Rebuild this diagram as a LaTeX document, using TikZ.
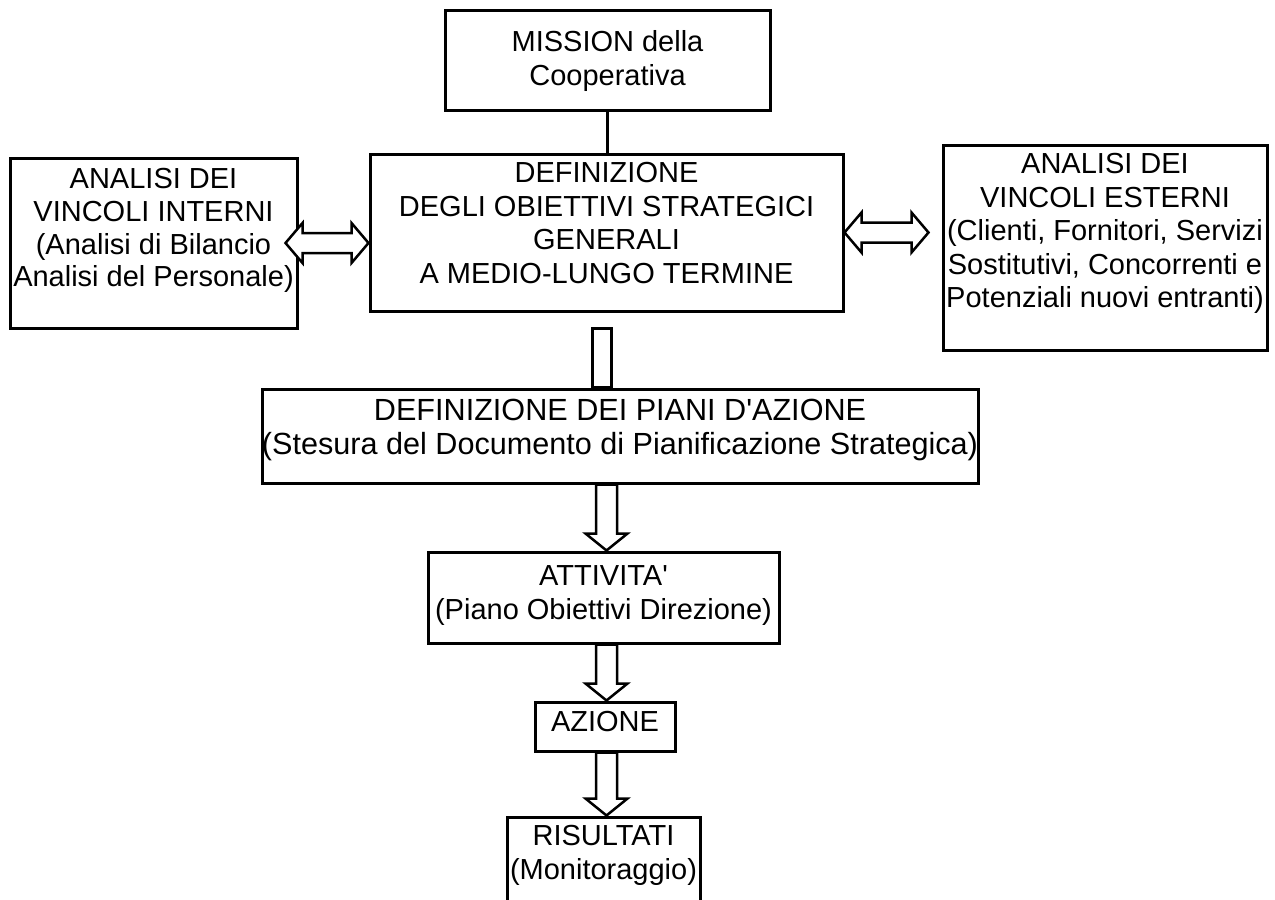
\documentclass[tikz,border=0pt]{standalone}
\usepackage{fontspec}
\setmainfont{Liberation Sans}
\usetikzlibrary{positioning,calc}

% freccia vuota verso il basso: #1 coda, #2 punta
\newcommand{\frecciagiu}[2]{%
	\draw[freccia] let \p1=(#1), \p2=(#2) in
		(\x1-10.5pt,\y1) -- (\x1-10.5pt,\y2+17pt) -- (\x1-21pt,\y2+17pt) -- (\x1,\y2)
		-- (\x1+21pt,\y2+17pt) -- (\x1+10.5pt,\y2+17pt) -- (\x1+10.5pt,\y1) -- cycle;}
% freccia vuota a due punte: #1 punta sinistra, #2 punta destra
\newcommand{\frecciadoppia}[2]{%
	\draw[freccia] let \p1=(#1), \p2=(#2) in
		(\x1,\y1) -- (\x1+17pt,\y1+20pt) -- (\x1+17pt,\y1+10pt) -- (\x2-17pt,\y1+10pt)
		-- (\x2-17pt,\y1+20pt) -- (\x2,\y1) -- (\x2-17pt,\y1-20pt) -- (\x2-17pt,\y1-10pt)
		-- (\x1+17pt,\y1-10pt) -- (\x1+17pt,\y1-20pt) -- cycle;}

\begin{document}
\begin{tikzpicture}[x=1pt, y=-1pt,
		scatola/.style={draw, line width=3pt, inner sep=0pt},
		testo/.style={align=center, inner sep=0pt, font=\fontsize{29}{33.4}\selectfont},
		freccia/.style={draw, fill=white, line width=2.5pt}]
	\useasboundingbox (0,0) rectangle (1275,900);
	\clip (0,0) rectangle (1275,900);
	% caselle
	\node[scatola, minimum width=325pt, minimum height=100pt] (mission) at (607.5,60) {};
	\node[scatola, minimum width=473pt, minimum height=157pt] (defin) at (606.5,232.5) {};
	\node[scatola, minimum width=287pt, minimum height=170pt] (interni) at (153.5,243) {};
	\node[scatola, minimum width=324pt, minimum height=205pt] (esterni) at (1105,247.5) {};
	\node[scatola, minimum width=716pt, minimum height=94pt] (piani) at (620,436) {};
	\node[scatola, minimum width=351pt, minimum height=91pt] (attivita) at (603.5,597.5) {};
	\node[scatola, minimum width=140pt, minimum height=49pt] (azione) at (605,726.5) {};
	\node[scatola, minimum width=193pt, minimum height=103pt] (risultati) at (603.5,868.5) {};
	% testi
	\node[testo, below=22pt of mission.north] (mission-t) {MISSION della\\Cooperativa};
	\node[testo, below=10pt of defin.north] (defin-t) {DEFINIZIONE\\DEGLI OBIETTIVI STRATEGICI\\GENERALI\\A MEDIO-LUNGO TERMINE};
	\node[testo, below=12pt of interni.north, font=\fontsize{29}{32.6}\selectfont] (interni-t) {ANALISI DEI\\VINCOLI INTERNI\\(Analisi di Bilancio\hspace*{.28em}\\Analisi del Personale)};
	\node[testo, below=10pt of esterni.north] (esterni-t) {ANALISI DEI\\VINCOLI ESTERNI\\(Clienti, Fornitori, Servizi\\Sostitutivi, Concorrenti e\\Potenziali nuovi entranti)};
	\node[testo, below=11pt of piani.north, font=\fontsize{30.6}{34.5}\selectfont] (piani-t) {DEFINIZIONE DEI PIANI D\textquotesingle AZIONE\\(Stesura del Documento di Pianificazione Strategica)};
	\node[testo, below=15pt of attivita.north] (attivita-t) {ATTIVITA\textquotesingle\\(Piano Obiettivi Direzione)};
	\node[testo, below=11pt of azione.north] (azione-t) {AZIONE};
	\node[testo, below=10pt of risultati.north] (risultati-t) {RISULTATI\\(Monitoraggio)};
	% collegamenti
	\draw[line width=2.5pt] (mission.south) -- (mission.south |- defin.north);
	\frecciadoppia{[xshift=-13pt]interni.east}{defin.west}
	\frecciadoppia{defin.east}{$(esterni.west |- defin.east)+(-13,0)$}
	\draw[freccia] ($(defin.south)+(-14,16)$) rectangle ($(defin.south |- piani.north)+(5,0)$);
	\frecciagiu{piani.south -| defin.south}{attivita.north -| defin.south}
	\frecciagiu{attivita.south -| defin.south}{azione.north -| defin.south}
	\frecciagiu{azione.south -| defin.south}{risultati.north -| defin.south}
\end{tikzpicture}
\end{document}
